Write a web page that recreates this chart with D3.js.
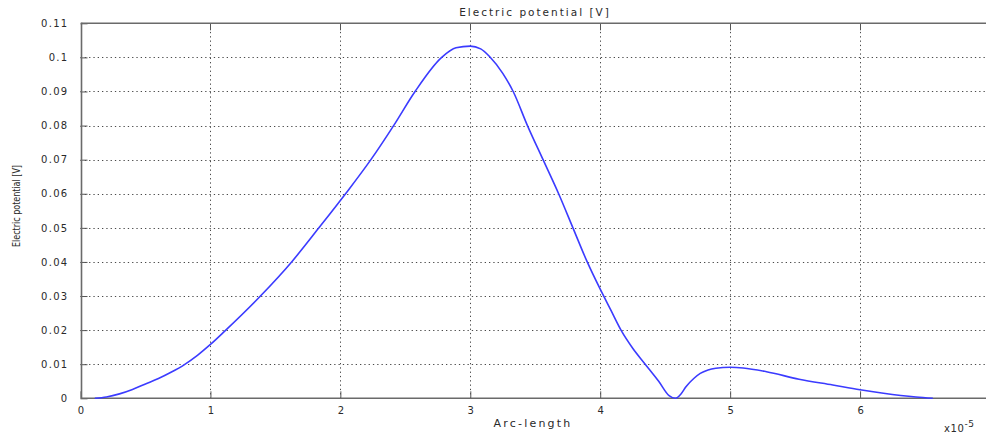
<!DOCTYPE html>
<html>
<head>
<meta charset="utf-8">
<script src="https://cdn.jsdelivr.net/npm/d3@7"></script>
<style>
  html, body { margin: 0; padding: 0; background: #fff; overflow: hidden; }
  svg { display: block; }
  text { font-family: "DejaVu Sans", Verdana, sans-serif; fill: #2a2a2a; }
</style>
</head>
<body>
<svg id="chart" width="986" height="435"></svg>
<script>
// Arc-length (in units of 1e-5) and electric potential [V] along the cut line
const arcLength = [0.11, 0.2, 0.3, 0.4, 0.5, 0.6, 0.7, 0.8, 0.9, 1.0, 1.11, 1.385, 1.625, 1.835,
  2.04, 2.235, 2.41, 2.575, 2.78, 2.89, 3.0, 3.08, 3.15, 3.25, 3.33, 3.44, 3.56, 3.68, 3.79, 3.90,
  4.0, 4.08, 4.16, 4.25, 4.34, 4.45, 4.53, 4.58, 4.62, 4.66, 4.72, 4.77, 4.83, 4.89, 5.0, 5.1,
  5.28, 5.53, 5.79, 6.0, 6.18, 6.43, 6.56];
const potential = [0, 0.0004, 0.0013, 0.0026, 0.0042, 0.0058, 0.0077, 0.0099, 0.0126, 0.0158, 0.0197,
  0.0300, 0.0400, 0.0500, 0.0600, 0.0700, 0.0800, 0.0900, 0.1000, 0.1028, 0.1033, 0.1025, 0.1002,
  0.0953, 0.0900, 0.0800, 0.0700, 0.0600, 0.0500, 0.0400, 0.0320, 0.0260, 0.0200, 0.0147, 0.0103,
  0.0050, 0.0008, 0, 0.0012, 0.0034, 0.0058, 0.0073, 0.0083, 0.0088, 0.0091, 0.0089, 0.0078,
  0.0056, 0.0039, 0.0025, 0.0015, 0.0004, 0];

const xTicks = [0, 1, 2, 3, 4, 5, 6, 7];
const yTicks = [0, 0.01, 0.02, 0.03, 0.04, 0.05, 0.06, 0.07, 0.08, 0.09, 0.1, 0.11];

const titleText = "Electric potential [V]";
const xLabel = "Arc-length";
const yLabel = "Electric potential [V]";

(function () {
  const svg = d3.select("#chart");
  const W = 986;
  const pl = 80.5, pr = 990, pt = 23.3, pb = 398.3;

  const x = d3.scaleLinear().domain([0, 7]).range([pl, pr]);
  const y = d3.scaleLinear().domain([0, 0.11]).range([pb, pt]);

  // dotted grid
  const grid = svg.append("g").attr("stroke", "#4a4a4a").attr("stroke-width", 1).attr("stroke-dasharray", "1.3,3");
  grid.selectAll("line.gx").data(xTicks.filter(d => d > 0 && d < 7)).join("line")
    .attr("x1", d => Math.round(x(d)) + 0.5).attr("x2", d => Math.round(x(d)) + 0.5)
    .attr("y1", pt).attr("y2", pb);
  grid.selectAll("line.gy").data(yTicks.filter(d => d > 0 && d < 0.11)).join("line")
    .attr("x1", pl).attr("x2", W)
    .attr("y1", d => Math.round(y(d)) + 0.5).attr("y2", d => Math.round(y(d)) + 0.5);

  // left axis
  const yAxis = d3.axisLeft(y).tickValues(yTicks).tickSize(-7).tickPadding(12)
    .tickFormat(d => d3.format("~g")(+d.toFixed(4)));
  const gy = svg.append("g").attr("transform", `translate(${pl},0)`).call(yAxis);
  gy.select(".domain").remove();
  gy.selectAll(".tick line").attr("stroke", "#555").attr("stroke-width", 1);
  gy.selectAll(".tick text").attr("font-size", 10).attr("letter-spacing", "1.3px")
    .attr("font-family", "DejaVu Sans, sans-serif").attr("fill", "#2a2a2a");

  // bottom axis
  const xAxis = d3.axisBottom(x).tickValues(xTicks).tickSize(-7).tickPadding(12).tickFormat(d3.format("d"));
  const gx = svg.append("g").attr("transform", `translate(0,${pb})`).call(xAxis);
  gx.select(".domain").remove();
  gx.selectAll(".tick line").attr("stroke", "#555").attr("stroke-width", 1);
  gx.selectAll(".tick text").attr("font-size", 10).attr("font-family", "DejaVu Sans, sans-serif")
    .attr("fill", "#2a2a2a").attr("dy", "0.4em");

  // top inner ticks
  svg.append("g").selectAll("line").data(xTicks.filter(d => d > 0 && d < 7)).join("line")
    .attr("x1", d => Math.round(x(d)) + 0.5).attr("x2", d => Math.round(x(d)) + 0.5)
    .attr("y1", pt).attr("y2", pt + 7).attr("stroke", "#555");

  // frame
  const frame = svg.append("g").attr("stroke", "#6a6a6a").attr("stroke-width", 1.6).attr("fill", "none");
  frame.append("line").attr("x1", pl + 1).attr("x2", W).attr("y1", pt).attr("y2", pt);
  frame.append("line").attr("x1", pl + 1).attr("x2", W).attr("y1", pb).attr("y2", pb);
  frame.append("line").attr("x1", pl + 1).attr("x2", pl + 1).attr("y1", pt - 0.8).attr("y2", pb + 0.8);

  // potential curve
  const line = d3.line().x((d, i) => x(arcLength[i])).y(d => y(d)).curve(d3.curveMonotoneX);
  svg.append("path").datum(potential).attr("d", line)
    .attr("fill", "none").attr("stroke", "#3b3bff").attr("stroke-width", 1.6)
    .attr("stroke-linejoin", "round");

  // title
  svg.append("text").attr("x", 535).attr("y", 16).attr("text-anchor", "middle")
    .attr("font-size", 10.5).attr("letter-spacing", "2px").text(titleText);

  // x label
  svg.append("text").attr("x", 533).attr("y", 427).attr("text-anchor", "middle")
    .attr("font-size", 11).attr("letter-spacing", "2.2px").text(xLabel);

  // x scale multiplier
  const mult = svg.append("text").attr("x", 944).attr("y", 432).attr("font-size", 10).attr("letter-spacing", "0.6px");
  mult.append("tspan").text("x10");
  mult.append("tspan").attr("dy", -5).attr("font-size", 9).text("-5");

  // y label (condensed)
  svg.append("text").attr("transform", "translate(20,206) rotate(-90)").attr("text-anchor", "middle")
    .attr("font-family", "Liberation Sans Narrow, DejaVu Sans Condensed, sans-serif")
    .attr("font-size", 10).attr("textLength", 82).attr("lengthAdjust", "spacingAndGlyphs")
    .text(yLabel);
})();
</script>
</body>
</html>
